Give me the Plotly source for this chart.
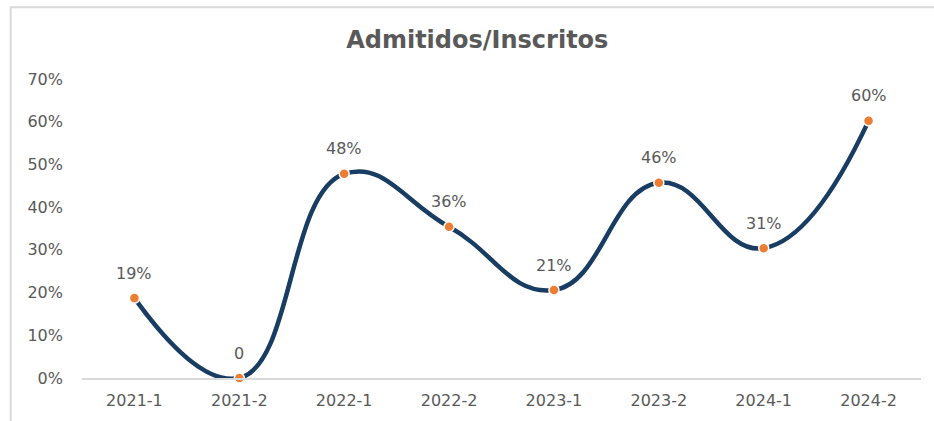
import plotly.graph_objects as go

categories = ["2021-1", "2021-2", "2022-1", "2022-2", "2023-1", "2023-2", "2024-1", "2024-2"]
ratios = [0.187, 0.0, 0.478, 0.354, 0.206, 0.457, 0.304, 0.602]
labels = ["19%", "0", "48%", "36%", "21%", "46%", "31%", "60%"]
y_ticks = [0, 0.1, 0.2, 0.3, 0.4, 0.5, 0.6, 0.7]
y_tick_text = ["0%", "10%", "20%", "30%", "40%", "50%", "60%", "70%"]

GRAY = "#595959"
FONT = "DejaVu Sans"

fig = go.Figure()
fig.add_trace(go.Scatter(
    x=categories, y=ratios,
    mode="lines+markers",
    line=dict(color="#183C62", width=4.5, shape="spline", smoothing=1.3),
    marker=dict(color="#ED7D31", size=10, line=dict(color="white", width=1.5)),
    cliponaxis=False,
    hoverinfo="x+y",
))

for c, v, t in zip(categories, ratios, labels):
    fig.add_annotation(x=c, y=v, text=t, showarrow=False, yshift=25,
                       xanchor="center", yanchor="middle",
                       font=dict(family=FONT, size=16, color=GRAY))

fig.update_layout(
    width=934, height=421,
    margin=dict(l=82, r=13, t=79, b=43),
    paper_bgcolor="white", plot_bgcolor="white",
    showlegend=False,
    title=dict(text="<b>Admitidos/Inscritos</b>", x=0.511, xanchor="center",
               y=0.905, yanchor="middle",
               font=dict(family=FONT, size=24, color=GRAY)),
    xaxis=dict(type="category", range=[-0.5, 7.5], showgrid=False,
               showline=True, linecolor="#D9D9D9", linewidth=1.5,
               ticks="", ticklabelstandoff=7,
               tickfont=dict(family=FONT, size=16, color=GRAY),
               fixedrange=True),
    yaxis=dict(range=[0, 0.7], tickvals=y_ticks, ticktext=y_tick_text,
               showgrid=False, zeroline=False, showline=False, ticks="",
               ticklabelstandoff=18,
               tickfont=dict(family=FONT, size=16, color=GRAY),
               fixedrange=True),
)

# Chart frame (top and left edges visible within the view)
fig.add_shape(type="rect", xref="paper", yref="paper",
              x0=-0.085, x1=1.2, y0=-0.2, y1=1.24,
              line=dict(color="#D9D9D9", width=2), fillcolor="rgba(0,0,0,0)",
              layer="below")

fig.write_html("out.html", config={"displayModeBar": False},
               post_script="document.body.style.margin='0';document.body.style.overflow='hidden';")
